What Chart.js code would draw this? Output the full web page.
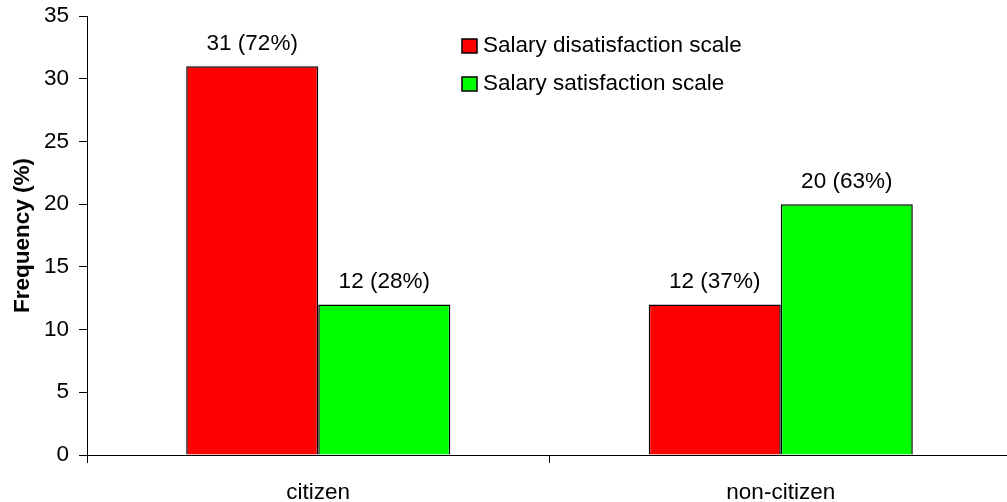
<!DOCTYPE html>
<html>
<head>
<meta charset="utf-8">
<script src="https://cdn.jsdelivr.net/npm/chart.js@4/dist/chart.umd.min.js"></script>
<style>
  html, body { margin: 0; padding: 0; background: #fff; overflow: hidden; }
  #wrap { width: 1007px; height: 502px; overflow: hidden; }
</style>
</head>
<body>
<div id="wrap">
  <canvas id="chart" width="1012" height="502"></canvas>
</div>
<script>
// Data

const categories = ['citizen', 'non-citizen'];
const seriesNames = ['Salary disatisfaction scale', 'Salary satisfaction scale'];
const dissatisfied = [31, 12];
const satisfied = [12, 20];
const dissatisfiedPct = [72, 37];
const satisfiedPct = [28, 63];
const yTicks = [0, 5, 10, 15, 20, 25, 30, 35];

const FONT = "'Liberation Sans', Arial, sans-serif";
const SIZE = 22.5;

// Labels above bars, e.g. "31 (72%)"
const barLabels = [
    dissatisfied.map((v, i) => v + ' (' + dissatisfiedPct[i] + '%)'),
    satisfied.map((v, i) => v + ' (' + satisfiedPct[i] + '%)'),
];

const valueLabels = {
    id: 'valueLabels',
    afterDatasetsDraw(chart) {
        const ctx = chart.ctx;
        ctx.save();
        ctx.font = SIZE + 'px ' + FONT;
        ctx.fillStyle = '#000';
        ctx.textAlign = 'center';
        ctx.textBaseline = 'alphabetic';
        chart.data.datasets.forEach((ds, d) => {
            chart.getDatasetMeta(d).data.forEach((bar, i) => {
                ctx.fillText(barLabels[d][i], bar.x, bar.y - 16);
            });
        });
        ctx.restore();
    }
};

// Legend drawn inside the plot, two rows
const insideLegend = {
    id: 'insideLegend',
    afterDraw(chart) {
        const ctx = chart.ctx;
        ctx.save();
        ctx.font = SIZE + 'px ' + FONT;
        ctx.textBaseline = 'middle';
        ctx.textAlign = 'left';
        chart.data.datasets.forEach((ds, d) => {
            const cy = 46 + d * 38;
            ctx.fillStyle = ds.backgroundColor;
            ctx.fillRect(462, cy - 7, 15, 14);
            ctx.strokeStyle = '#000';
            ctx.lineWidth = 1.5;
            ctx.strokeRect(462, cy - 7, 15, 14);
            ctx.fillStyle = '#000';
            ctx.fillText(ds.label, 483, cy);
        });
        ctx.restore();
    }
};

const data = {
    labels: categories,
    datasets: [{
        label: seriesNames[0],
        data: dissatisfied,
        backgroundColor: '#FF0000',
        borderColor: '#000000',
        borderWidth: 1.5,
    }, {
        label: seriesNames[1],
        data: satisfied,
        backgroundColor: '#00FF00',
        borderColor: '#000000',
        borderWidth: 1.5,
    }],
};

const config = {
    type: 'bar',
    data: data,
    options: {
        responsive: false,
        animation: false,
        categoryPercentage: 0.571,
        barPercentage: 1.0,
        layout: {
            padding: { top: 16, left: 0, right: 0, bottom: 0 }
        },
        plugins: {
            legend: { display: false },
            tooltip: { enabled: false },
        },
        scales: {
            x: {
                grid: {
                    display: true,
                    offset: true,
                    drawOnChartArea: false,
                    tickLength: 8,
                    color: '#000',
                },
                border: { color: '#000', width: 1 },
                ticks: {
                    color: '#000',
                    padding: 16,
                    font: { family: FONT, size: SIZE },
                },
                afterFit(scale) {
                    scale.height = 47;
                    scale.paddingLeft = 0;
                    scale.paddingRight = 0;
                }
            },
            y: {
                min: 0,
                max: 35,
                afterBuildTicks(scale) {
                    scale.ticks = yTicks.map(v => ({ value: v }));
                },
                grid: {
                    drawOnChartArea: false,
                    tickLength: 8,
                    color: '#000',
                },
                border: { color: '#000', width: 1 },
                ticks: {
                    color: '#000',
                    padding: 10,
                    font: { family: FONT, size: SIZE },
                },
                title: {
                    display: true,
                    text: 'Frequency (%)',
                    color: '#000',
                    padding: { top: 9, bottom: 0 },
                    font: { family: FONT, size: SIZE, weight: 'bold' },
                },
                afterFit(scale) {
                    scale.width = 87;
                    scale.paddingTop = 0;
                    scale.paddingBottom = 0;
                }
            }
        }
    },
    plugins: [valueLabels, insideLegend]
};

const context = document.getElementById('chart').getContext('2d');
const chart = new Chart(context, config);
</script>
</body>
</html>
